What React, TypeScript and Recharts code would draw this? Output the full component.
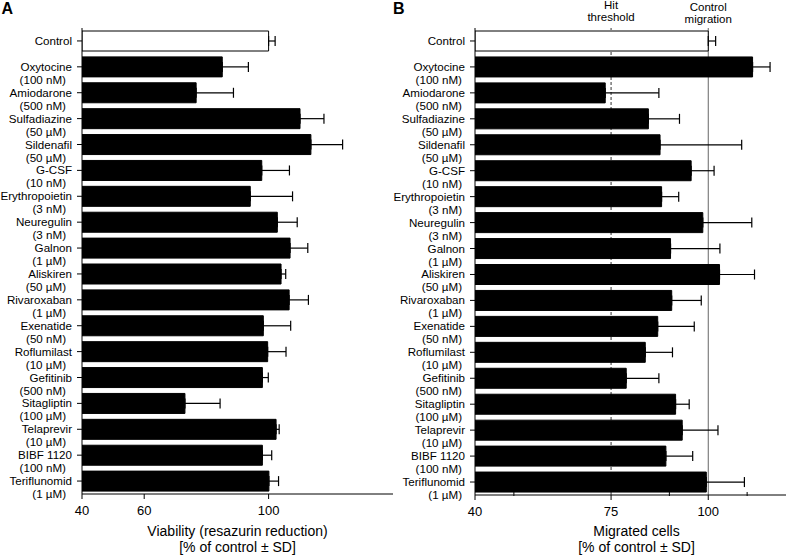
import React from 'react';
import { BarChart, Bar, XAxis, YAxis, Cell, ErrorBar, ReferenceLine, Label } from 'recharts';

const FONT = '"Liberation Sans", Arial, sans-serif';

const compounds = [
  'Control', 'Oxytocine', 'Amiodarone', 'Sulfadiazine', 'Sildenafil', 'G-CSF',
  'Erythropoietin', 'Neuregulin', 'Galnon', 'Aliskiren', 'Rivaroxaban', 'Exenatide',
  'Roflumilast', 'Gefitinib', 'Sitagliptin', 'Telaprevir', 'BIBF 1120', 'Teriflunomid',
];
const doses = [
  '', '(100 nM)', '(500 nM)', '(50 µM)', '(50 µM)', '(10 nM)',
  '(3 nM)', '(3 nM)', '(1 µM)', '(50 µM)', '(1 µM)', '(50 nM)',
  '(10 µM)', '(500 nM)', '(100 µM)', '(10 µM)', '(100 nM)', '(1 µM)',
];

// panel A: viability
const viability = [100, 85.1, 76.7, 110.1, 113.6, 97.8, 94.1, 102.8, 106.9, 104.0, 106.6, 98.3, 99.7, 98.0, 73.1, 102.4, 98.0, 100.1];
const viabilitySd = [2.1, 8.4, 12.0, 7.7, 10.2, 8.9, 13.6, 6.4, 5.7, 1.5, 6.2, 8.8, 5.9, 1.9, 11.3, 1.0, 3.0, 3.1];
const viabilityTicks = [40, 60, 100];

// panel B: migration
const migration = [100, 111.4, 73.5, 84.6, 87.6, 95.6, 88.0, 98.6, 90.3, 102.9, 90.6, 87.0, 83.8, 78.9, 91.6, 93.3, 89.1, 99.5];
const migrationSd = [1.9, 4.5, 13.8, 8.0, 21.0, 5.9, 4.4, 12.6, 12.7, 9.0, 7.6, 9.4, 7.0, 8.4, 3.5, 9.2, 6.9, 9.8];
const migrationTicks = [40, 50, 70, 75, 90, 100, 110];
const migrationLabels = [40, 75, 100];
const hitThreshold = 75;
const controlLevel = 100;

const viabilityData = compounds.map((name, i) => ({ name, value: viability[i], err: [0, viabilitySd[i]] }));
const migrationData = compounds.map((name, i) => ({ name, value: migration[i], err: [0, migrationSd[i]] }));

// name line ends 10px left of the axis, dose line a bit further in
const makeYTick = (axisX: number, doseEnd: number) => (props: any) => {
  const { y, payload } = props;
  const dose = doses[compounds.indexOf(payload.value)];
  return (
    <g fontFamily={FONT} fontSize={11.6} fill="#000">
      <text x={axisX - 10} y={y + 4} textAnchor="end">{payload.value}</text>
      {dose && <text x={doseEnd} y={y + 17} textAnchor="end">{dose}</text>}
    </g>
  );
};

const makeXTick = (axisY: number, labels: number[]) => (props: any) => {
  const { x, payload } = props;
  const major = labels.includes(payload.value);
  return (
    <g>
      {major
        ? <line x1={x} x2={x} y1={axisY} y2={axisY + 5} stroke="#000" />
        : <line x1={x} x2={x} y1={axisY - 3} y2={axisY + 1} stroke="#000" />}
      {major && (
        <text x={x} y={axisY + 21} textAnchor="middle" fontFamily={FONT} fontSize={13} fill="#000">
          {payload.value}
        </text>
      )}
    </g>
  );
};

const axisTitle = (lines: string[], baseY: number, dx: number) => (props: any) => {
  const { viewBox } = props;
  const cx = viewBox.x + viewBox.width / 2 + dx;
  return (
    <text textAnchor="middle" fontFamily={FONT} fontSize={14} fill="#000">
      {lines.map((l, i) => (
        <tspan key={i} x={cx} y={baseY + i * 16}>{l}</tspan>
      ))}
    </text>
  );
};

const topLabel = (lines: string[], baseY: number) => (props: any) => {
  const { viewBox } = props;
  return (
    <text textAnchor="middle" fontFamily={FONT} fontSize={11.5} fill="#000">
      {lines.map((l, i) => (
        <tspan key={i} x={viewBox.x} y={baseY + i * 12}>{l}</tspan>
      ))}
    </text>
  );
};

const letterStyle: React.CSSProperties = {
  position: 'absolute', top: 0, fontFamily: FONT, fontWeight: 'bold', fontSize: 16, lineHeight: 'normal',
};

export default function App() {
  return (
    <div style={{ position: 'absolute', left: 0, top: 0, width: 787, height: 558, background: '#fff', overflow: 'hidden' }}>
      <div style={{ ...letterStyle, left: 1.5 }}>A</div>
      <div style={{ ...letterStyle, left: 393 }}>B</div>

      {/* Panel A */}
      <div style={{ position: 'absolute', left: 0, top: 0 }}>
        <BarChart
          width={400}
          height={558}
          data={viabilityData}
          layout="vertical"
          margin={{ top: 28, right: 7, bottom: 0, left: 0 }}
          barCategoryGap={3}
        >
          <XAxis
            type="number"
            domain={[40, 140]}
            ticks={viabilityTicks}
            allowDataOverflow
            height={64}
            tickLine={false}
            axisLine={{ stroke: '#000' }}
            tick={makeXTick(494, viabilityTicks)}
          >
            <Label content={axisTitle(['Viability (resazurin reduction)', '[% of control ± SD]'], 535.5, 0)} />
          </XAxis>
          <YAxis
            type="category"
            dataKey="name"
            width={82}
            tickSize={5}
            interval={0}
            axisLine={{ stroke: '#000' }}
            tickLine={{ stroke: '#000' }}
            tick={makeYTick(82, 66)}
          />
          <Bar dataKey="value" fill="#000" isAnimationActive={false}>
            {viabilityData.map((d, i) => (
              <Cell key={i} fill={i === 0 ? '#fff' : '#000'} stroke="#000" strokeWidth={1} />
            ))}
            <ErrorBar dataKey="err" direction="x" width={5} stroke="#000" strokeWidth={1.2} isAnimationActive={false} />
          </Bar>
        </BarChart>
      </div>

      {/* Panel B */}
      <div style={{ position: 'absolute', left: 393, top: 0 }}>
        <BarChart
          width={394}
          height={558}
          data={migrationData}
          layout="vertical"
          margin={{ top: 28, right: 1, bottom: 0, left: 0 }}
          barCategoryGap={3}
        >
          <XAxis
            type="number"
            domain={[40, 120]}
            ticks={migrationTicks}
            allowDataOverflow
            height={63}
            tickLine={false}
            axisLine={{ stroke: '#000' }}
            tick={makeXTick(495, migrationLabels)}
          >
            <Label content={axisTitle(['Migrated cells', '[% of control ± SD]'], 535.5, 6)} />
          </XAxis>
          <YAxis
            type="category"
            dataKey="name"
            width={82}
            tickSize={5}
            interval={0}
            axisLine={{ stroke: '#000' }}
            tickLine={{ stroke: '#000' }}
            tick={makeYTick(82, 69)}
          />
          <ReferenceLine
            x={hitThreshold}
            stroke="#333"
            strokeDasharray="3 2"
            zIndex={100}
            label={{ content: topLabel(['Hit', 'threshold'], 9) }}
          />
          <ReferenceLine
            x={controlLevel}
            stroke="#666"
            zIndex={100}
            label={{ content: topLabel(['Control', 'migration'], 10.5) }}
          />
          <Bar dataKey="value" fill="#000" isAnimationActive={false}>
            {migrationData.map((d, i) => (
              <Cell key={i} fill={i === 0 ? '#fff' : '#000'} stroke="#000" strokeWidth={1} />
            ))}
            <ErrorBar dataKey="err" direction="x" width={5} stroke="#000" strokeWidth={1.2} isAnimationActive={false} />
          </Bar>
        </BarChart>
      </div>
    </div>
  );
}
